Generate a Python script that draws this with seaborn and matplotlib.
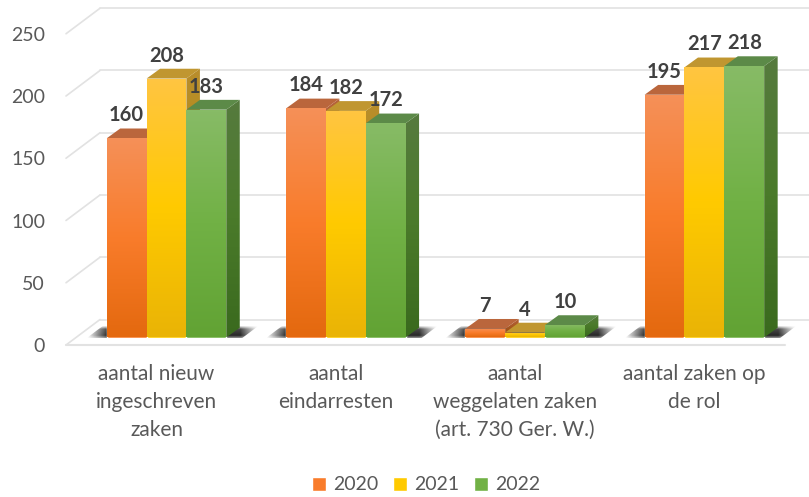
import numpy as np
import pandas as pd
import matplotlib
matplotlib.use("Agg")
import matplotlib.pyplot as plt
import seaborn as sns
from matplotlib.colors import LinearSegmentedColormap
from matplotlib.patches import Polygon

categories = ["aantal nieuw\ningeschreven\nzaken", "aantal\neindarresten",
              "aantal\nweggelaten zaken\n(art. 730 Ger. W.)", "aantal zaken op\nde rol"]
years = ["2020", "2021", "2022"]
values_2020 = [160, 184, 7, 195]
values_2021 = [208, 182, 4, 217]
values_2022 = [183, 172, 10, 218]
y_ticks = [0, 50, 100, 150, 200, 250]

# front, side and top shades per year: (top of gradient, middle, bottom)
front_colors = {
    "2020": ["#F59058", "#F97C2B", "#E4690F"],
    "2021": ["#FFC541", "#FFCA00", "#EAB406"],
    "2022": ["#87BB66", "#71B145", "#62A334"],
}
side_colors = {
    "2020": ["#B5623A", "#A85620", "#8F4A10"],
    "2021": ["#B98E2C", "#B08A10", "#A07E08"],
    "2022": ["#567A3E", "#4A7A2A", "#3A6A1E"],
}
top_colors = {"2020": "#BA663C", "2021": "#C09630", "2022": "#5C8A48"}

df = pd.DataFrame({
    "category": categories * 3,
    "year": np.repeat(years, 4),
    "value": values_2020 + values_2021 + values_2022,
})

# layout, in pixels of the 809x497 picture
W, H = 809, 497
PX_X = 179.3     # pixels per category
PX_Y = 1.245     # pixels per unit of value
X0, Y0 = 166.5, 337.5   # centre of first group, base of the bars
DEPTH_X, DEPTH_Y = 13.5 / PX_X, 9.8 / PX_Y


def xd(px):
    return (px - X0) / PX_X


def yd(px):
    return (Y0 - px) / PX_Y


sns.set_theme(style="white")
plt.rcParams["font.family"] = ["Lato", "DejaVu Sans"]

fig = plt.figure(figsize=(W / 100, H / 100), dpi=100)
ax = fig.add_axes([0, 0, 1, 1])

palette = {y: front_colors[y][1] for y in years}
sns.barplot(data=df, x="category", y="value", hue="year", hue_order=years,
            palette=palette, saturation=1, width=2 / 3, gap=0, ax=ax, zorder=2)


def gradient_poly(verts, colors, zorder):
    verts = np.array(verts)
    cmap = LinearSegmentedColormap.from_list("g", colors)
    grad = np.linspace(0, 1, 64).reshape(-1, 1)
    extent = [verts[:, 0].min(), verts[:, 0].max(), verts[:, 1].min(), verts[:, 1].max()]
    im = ax.imshow(grad, cmap=cmap, extent=extent, origin="upper", aspect="auto",
                   zorder=zorder, interpolation="bilinear")
    poly = Polygon(verts, closed=True, facecolor="none", edgecolor="none", transform=ax.transData)
    ax.add_patch(poly)
    im.set_clip_path(poly)


# ---------------------------------------------------------------------------
# WALLS AND GRIDLINES
# ---------------------------------------------------------------------------
grid_color = "#E2E2E2"
front_shift = yd(345)
back_shift = yd(319.5)
for tick in y_ticks:
    ax.plot([xd(66), xd(100)], [tick + front_shift, tick + back_shift], color=grid_color, lw=1.2, zorder=1)
    ax.plot([xd(100), xd(W)], [tick + back_shift, tick + back_shift], color=grid_color, lw=1.2, zorder=1)
    ax.text(xd(45), tick + yd(346.5), str(tick), ha="right", va="center", fontsize=14, color="#595959")
ax.plot([xd(66), xd(785)], [front_shift, front_shift], color=grid_color, lw=1.5, zorder=1)

# ---------------------------------------------------------------------------
# FLOOR SHADOWS
# ---------------------------------------------------------------------------
for i in range(len(categories)):
    left = i - 1 / 3
    right = i + 1 / 3
    pad_l, pad_r = 20 / PX_X, 32 / PX_X
    x = np.linspace(left - pad_l, right + pad_r, 300)
    fade_x = np.interp(x, [left - pad_l, left, right + DEPTH_X, right + pad_r], [0, 0.85, 0.85, 0])
    fade_y = np.interp(np.linspace(0, 1, 30), [0, 0.25, 0.8, 1], [0.1, 0.85, 1, 0.5])
    img = np.zeros((30, 300, 4))
    img[:, :, 3] = np.outer(fade_y, fade_x)
    im = ax.imshow(img, extent=[x[0], x[-1], yd(338), yd(326)], aspect="auto", zorder=1.5,
                   interpolation="bilinear")
    shadow = Polygon([(left - pad_l, yd(338)), (right + pad_r - 16 / PX_X, yd(338)),
                      (right + pad_r, yd(326)), (left - pad_l + 16 / PX_X, yd(326))],
                     closed=True, facecolor="none", edgecolor="none")
    ax.add_patch(shadow)
    im.set_clip_path(shadow)

# ---------------------------------------------------------------------------
# 3D BARS, built on the bars seaborn drew
# ---------------------------------------------------------------------------
bar_list = []
for year, container in zip(years, ax.containers):
    for patch in container.patches:
        bar_list.append((patch.get_x(), year, patch))
bar_list.sort(key=lambda b: b[0])

z = 3.0
for x_pos, year, patch in bar_list:
    x0, w, h = patch.get_x(), patch.get_width(), patch.get_height()
    x1 = x0 + w
    gradient_poly([(x1, 0), (x1 + DEPTH_X, DEPTH_Y), (x1 + DEPTH_X, h + DEPTH_Y), (x1, h)], side_colors[year], z)
    ax.add_patch(Polygon([(x0, h), (x1, h), (x1 + DEPTH_X, h + DEPTH_Y), (x0 + DEPTH_X, h + DEPTH_Y)],
                         closed=True, facecolor=top_colors[year], edgecolor="none", zorder=z + 0.01))
    z += 0.02

for x_pos, year, patch in bar_list:
    x0, w, h = patch.get_x(), patch.get_width(), patch.get_height()
    gradient_poly([(x0, 0), (x0 + w, 0), (x0 + w, h), (x0, h)], front_colors[year], 5)
    ax.annotate(f"{h:.0f}", (x0 + w / 2, h), xytext=(0, 23 * 0.72), textcoords="offset points",
                ha="center", va="center", fontsize=14.5, fontweight="bold", color="#404040", zorder=6)

# ---------------------------------------------------------------------------
# CATEGORY LABELS AND LEGEND
# ---------------------------------------------------------------------------
for i, label in enumerate(categories):
    ax.text(i - 10 / PX_X, yd(363.5), label, ha="center", va="top", fontsize=15,
            color="#595959", linespacing=1.5)

handles, labels = ax.get_legend_handles_labels()
ax.legend(handles, labels, ncol=3, frameon=False, loc="center", bbox_to_anchor=(426 / W, 1 - 485 / H),
          fontsize=14, labelcolor="#595959", handlelength=0.76, handleheight=0.76,
          handletextpad=0.35, columnspacing=0.73, title=None)

ax.set_xlim(xd(0), xd(W))
ax.set_ylim(yd(H), yd(0))
ax.axis("off")

fig.savefig("out.png", dpi=100)
plt.close(fig)
